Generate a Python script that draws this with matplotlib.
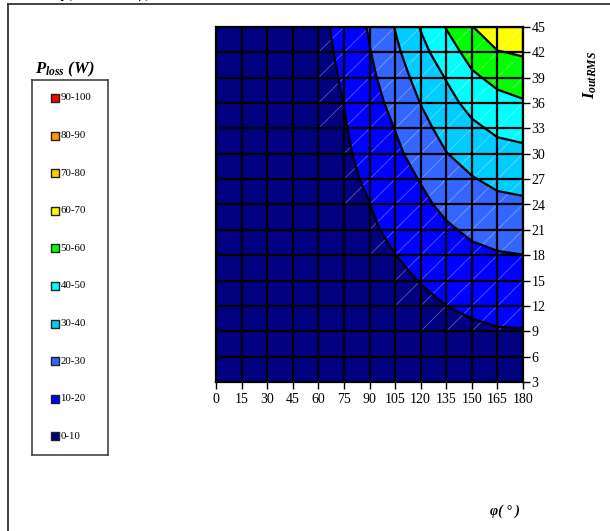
import numpy as np
import matplotlib
matplotlib.use("Agg")
import matplotlib.pyplot as plt
from matplotlib.lines import Line2D

plt.rcParams['font.family'] = 'Liberation Serif'
plt.rcParams['mathtext.fontset'] = 'custom'
plt.rcParams['mathtext.it'] = 'Liberation Serif:italic:bold'
plt.rcParams['mathtext.rm'] = 'Liberation Serif:italic:bold'
plt.rcParams['mathtext.bf'] = 'Liberation Serif:italic:bold'

# phase angle (deg) and output current (A RMS)
phi = [0, 15, 30, 45, 60, 75, 90, 105, 120, 135, 150, 165, 180]
current = [3, 6, 9, 12, 15, 18, 21, 24, 27, 30, 33, 36, 39, 42, 45]

# P_loss (W), one list per phi column, read for current = 3..45
loss_phi0   = [0.2, 0.3, 0.5, 0.6, 0.8, 0.9, 1.1, 1.2, 1.4, 1.5, 1.7, 1.8, 2.0, 2.1, 2.3]
loss_phi15  = [0.2, 0.4, 0.6, 0.8, 1.0, 1.2, 1.4, 1.6, 1.8, 2.0, 2.2, 2.4, 2.6, 2.8, 3.0]
loss_phi30  = [0.3, 0.6, 0.8, 1.1, 1.4, 1.7, 1.9, 2.2, 2.5, 2.8, 3.0, 3.3, 3.6, 3.9, 4.1]
loss_phi45  = [0.4, 0.8, 1.2, 1.6, 2.0, 2.4, 2.7, 3.1, 3.5, 3.9, 4.3, 4.7, 5.1, 5.5, 5.9]
loss_phi60  = [0.5, 1.1, 1.6, 2.1, 2.7, 3.2, 3.7, 4.3, 4.8, 5.3, 5.9, 6.4, 6.9, 7.5, 8.0]
loss_phi75  = [0.8, 1.7, 2.5, 3.4, 4.2, 5.1, 5.9, 6.8, 7.6, 8.5, 9.3, 10.1, 10.9, 11.7, 12.5]
loss_phi90  = [1.2, 2.5, 3.7, 5.0, 6.2, 7.4, 8.7, 9.9, 11.5, 13.1, 14.7, 16.3, 17.9, 19.5, 21.0]
loss_phi105 = [1.6, 3.3, 4.9, 6.6, 8.2, 9.9, 11.9, 14.0, 16.0, 18.1, 20.2, 22.7, 25.3, 27.9, 30.4]
loss_phi120 = [2.0, 4.1, 6.1, 8.2, 10.3, 12.8, 15.3, 17.9, 20.5, 23.7, 27.0, 30.2, 33.4, 37.1, 40.6]
loss_phi135 = [2.5, 5.0, 7.5, 10.0, 12.6, 15.8, 18.7, 22.2, 25.9, 29.7, 33.3, 36.8, 40.5, 45.2, 50.5]
loss_phi150 = [2.8, 5.7, 8.5, 11.5, 14.8, 18.0, 21.6, 25.5, 29.4, 33.7, 38.1, 43.0, 48.2, 53.8, 59.6]
loss_phi165 = [2.9, 6.0, 9.4, 12.7, 16.0, 19.3, 23.4, 27.6, 32.1, 36.8, 41.7, 46.9, 52.7, 59.5, 66.2]
loss_phi180 = [3.0, 6.2, 9.6, 13.0, 16.4, 19.9, 24.1, 28.4, 33.1, 37.9, 42.9, 49.0, 55.0, 61.0, 67.0]

levels = [0, 10, 20, 30, 40, 50, 60, 70, 80, 90, 100]
band_labels = ['0-10', '10-20', '20-30', '30-40', '40-50', '50-60', '60-70', '70-80', '80-90', '90-100']
band_colors = ['#000080', '#0000FF', '#3366FF', '#00CCFF', '#00FFFF',
               '#00FF00', '#FFFF00', '#FFCC00', '#FF9900', '#FF0000']

Z = np.array([loss_phi0, loss_phi15, loss_phi30, loss_phi45, loss_phi60, loss_phi75,
              loss_phi90, loss_phi105, loss_phi120, loss_phi135, loss_phi150,
              loss_phi165, loss_phi180]).T

W, H = 610, 531
fig = plt.figure(figsize=(W / 100, H / 100), dpi=100)
ax = fig.add_axes([216 / W, 1 - 382 / H, 307 / W, 355 / H])

ax.contourf(phi, current, Z, levels=levels, colors=band_colors)

# faint cell diagonals (surface triangulation) on cells above the lowest band
for i in range(len(current) - 1):
    for j in range(len(phi) - 1):
        if Z[i:i + 2, j:j + 2].max() >= levels[1]:
            ax.plot([phi[j], phi[j + 1]], [current[i], current[i + 1]],
                    color='white', alpha=0.35, linewidth=0.6, zorder=1.5)

ax.contour(phi, current, Z, levels=levels[1:-1], colors='black', linewidths=1.6, zorder=2)

ax.set_xlim(0, 180)
ax.set_ylim(3, 45)
ax.set_xticks(phi)
ax.set_yticks(current)
ax.grid(True, color='black', linewidth=1.6)
ax.set_axisbelow(False)
ax.yaxis.tick_right()
ax.tick_params(direction='out', length=5, width=1, labelsize=10, pad=1, colors='black')
ax.tick_params(axis='x', pad=3)
for s in ax.spines.values():
    s.set_linewidth(1.6)

# axis titles
fig.text(590 / W, 1 - 75 / H, r'$I_{outRMS}$', rotation=90, ha='center', va='center', fontsize=12)
fig.text(505 / W, 1 - 511 / H, 'φ( ° )', ha='center', va='center', fontsize=10,
         fontweight='bold', fontstyle='italic')

# chart title, mostly cut off by the top edge
fig.text(14 / W, 1 + 3.5 / H, r'$P_{loss} = f(I_{outRMS},\ \varphi)$',
         ha='left', va='baseline', fontsize=13)

# legend
fig.text(35 / W, 1 - 73 / H, r'$P_{loss}\ (W)$', ha='left', va='baseline', fontsize=12)
lax = fig.add_axes([32 / W, 1 - 455 / H, 76 / W, 375 / H])
lax.set_xlim(0, 76)
lax.set_ylim(375, 0)
lax.set_xticks([])
lax.set_yticks([])
for s in lax.spines.values():
    s.set_color('#444444')
    s.set_linewidth(1.2)
for i, (lab, col) in enumerate(zip(band_labels[::-1], band_colors[::-1])):
    yy = 18 + i * 37.6
    lax.scatter([23], [yy], marker='s', s=26, color=col, edgecolors='#222222', linewidths=1.0)
    lax.text(28.5, yy, lab, ha='left', va='center', fontsize=7.8)

# outer frame
fig.add_artist(Line2D([7.5 / W, 7.5 / W], [0, 1 - 4 / H], color='#333333', linewidth=1.3))
fig.add_artist(Line2D([7.5 / W, 1], [1 - 4 / H, 1 - 4 / H], color='#333333', linewidth=1.3))

fig.savefig('out.png', dpi=100)
